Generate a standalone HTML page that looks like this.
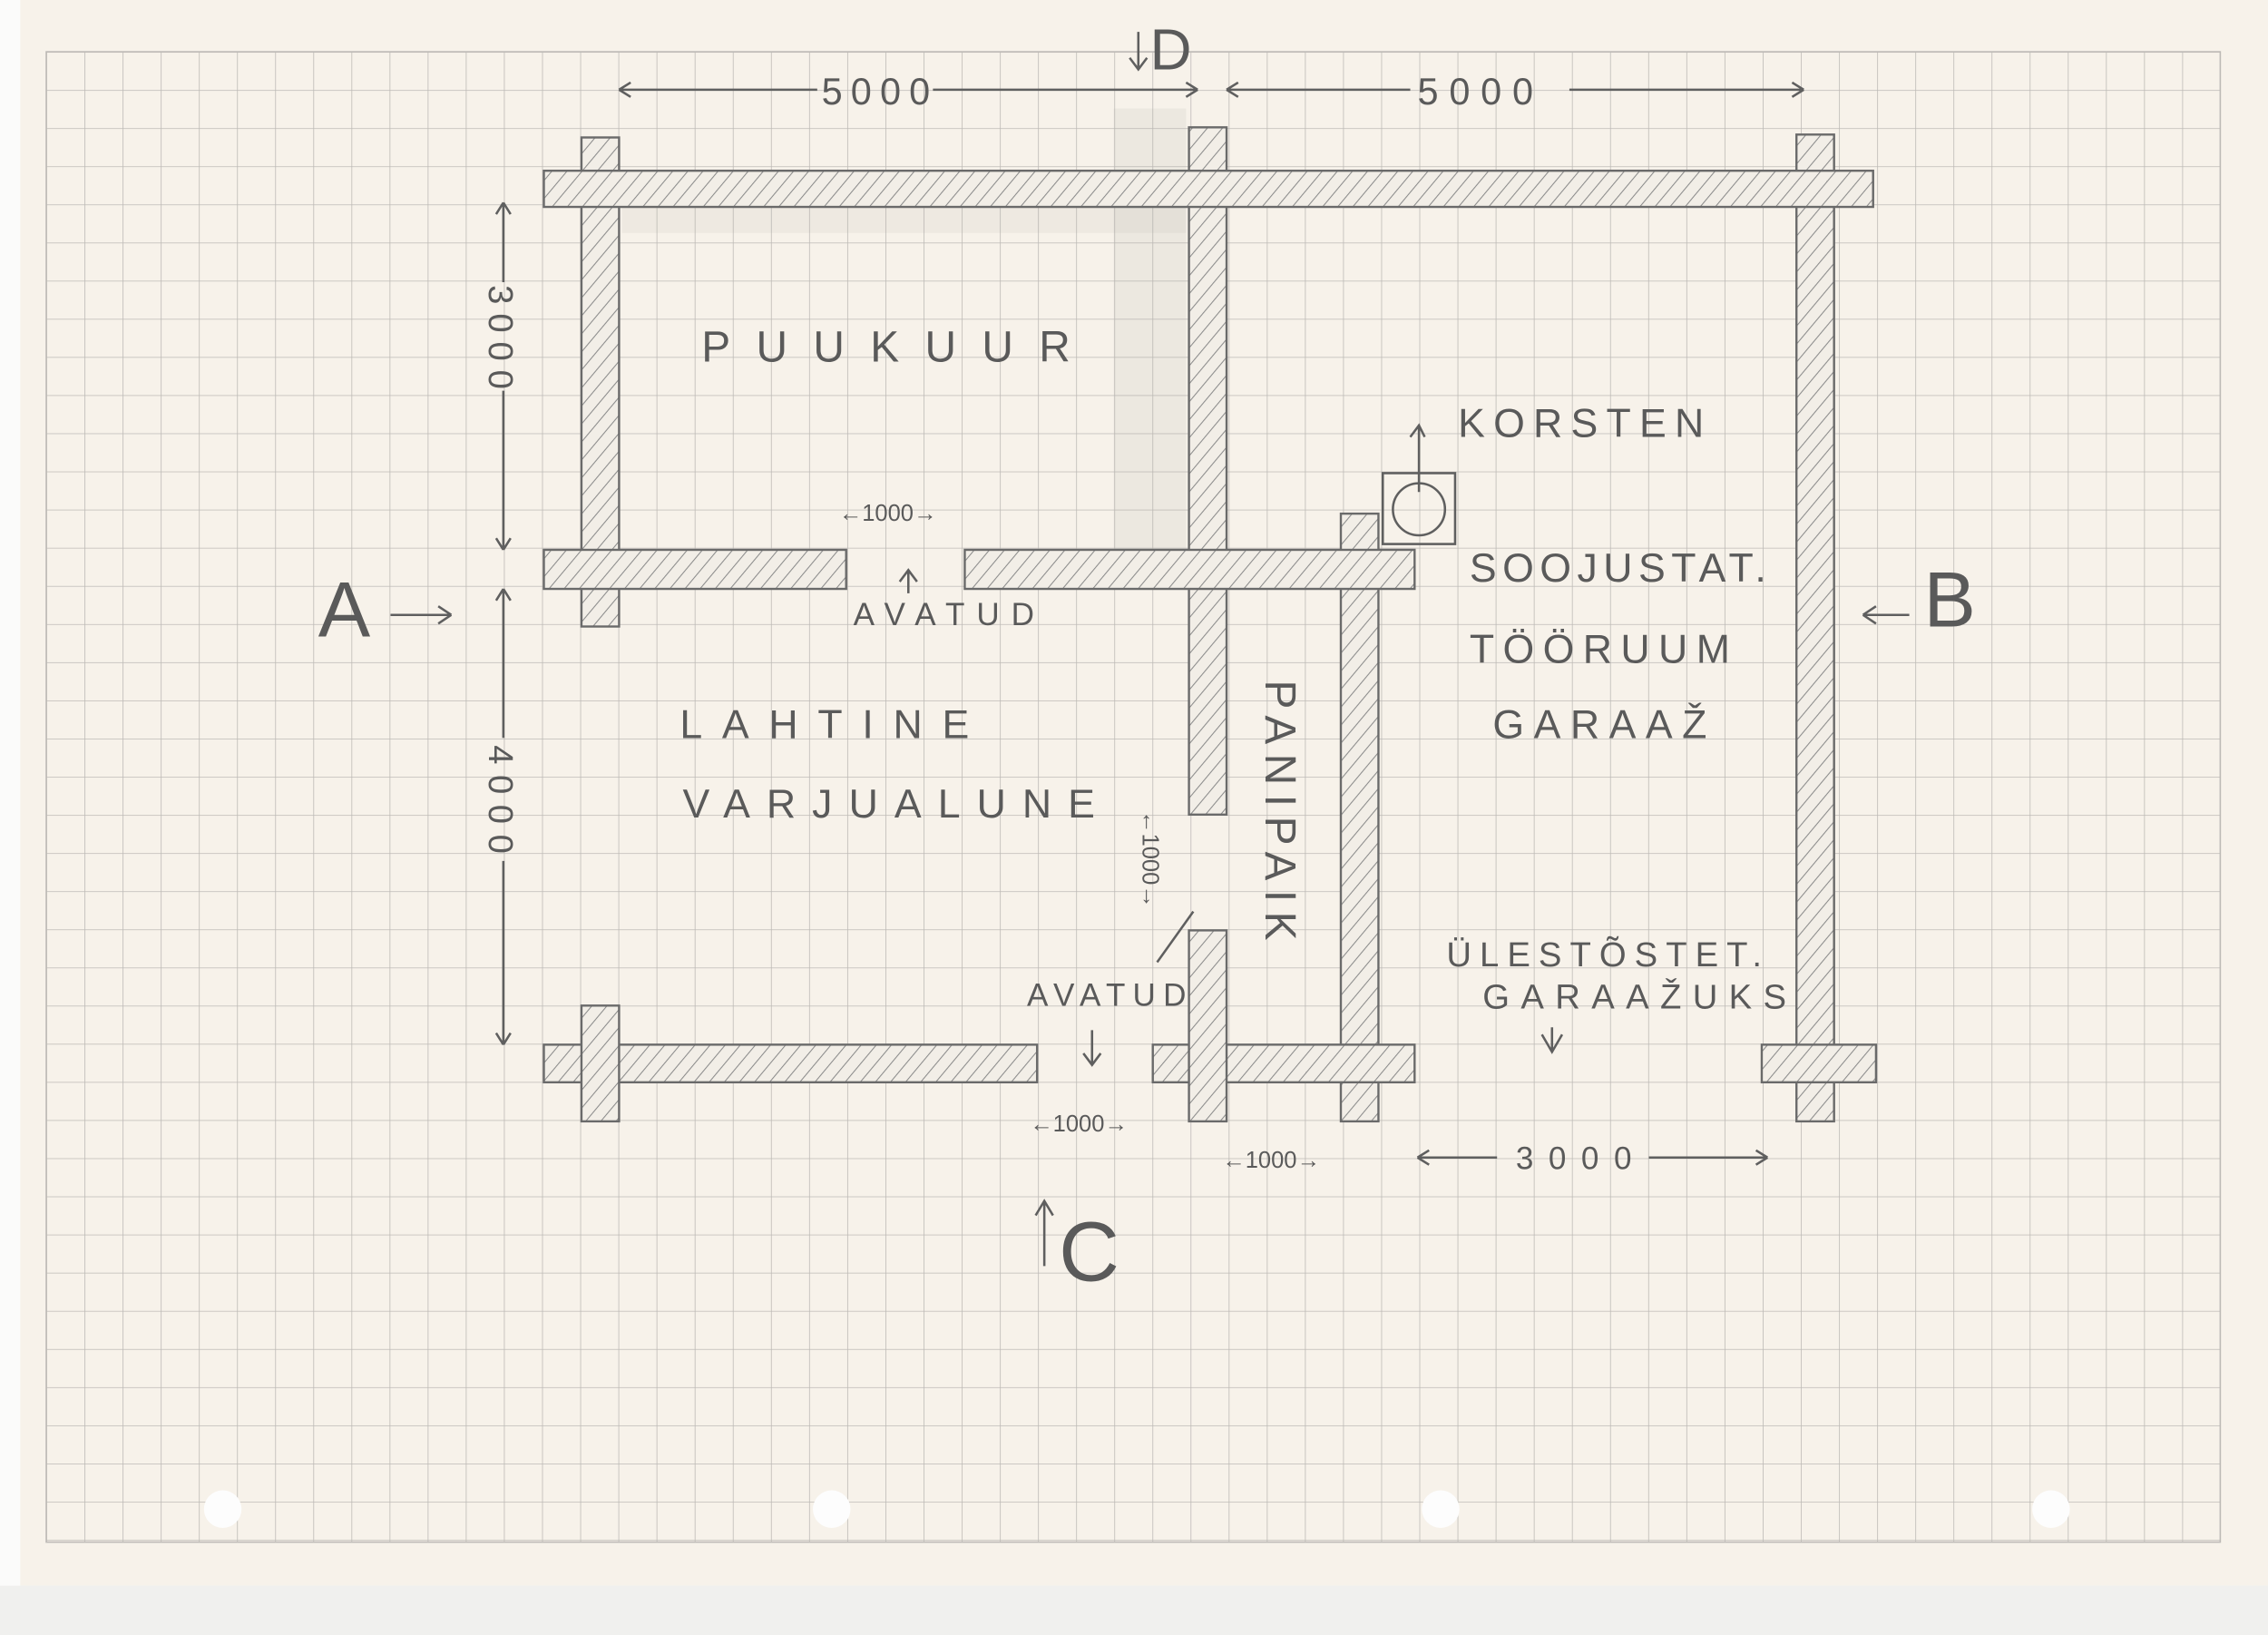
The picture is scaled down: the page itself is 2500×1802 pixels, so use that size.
<!DOCTYPE html>
<html><head><meta charset="utf-8"><style>
html,body{margin:0;padding:0;background:#f0f0ee;}
svg{display:block;}
text{font-family:"Liberation Sans",sans-serif;fill:#5a5a5a;}
</style></head><body>
<svg width="2500" height="1802" viewBox="0 0 1568 1130" preserveAspectRatio="none" xmlns="http://www.w3.org/2000/svg">
<defs>
<pattern id="g" x="32" y="35.8" width="26.37" height="26.37" patternUnits="userSpaceOnUse">
<path d="M0 0H26.37M0 0V26.37" stroke="#bdbab6" stroke-width="1" fill="none"/>
</pattern>
<pattern id="h" width="8" height="8" patternUnits="userSpaceOnUse" patternTransform="rotate(40)">
<rect width="8" height="8" fill="#f2eee7"/>
<line x1="0" y1="0" x2="0" y2="8" stroke="#8a8a8a" stroke-width="1.3"/>
</pattern>
</defs>
<rect x="0" y="0" width="1568" height="1096" fill="#f7f2ea"/>
<rect x="0" y="0" width="14" height="1096" fill="#fbfbfa"/>
<rect x="0" y="1096" width="1568" height="34" fill="#f0f0ee"/>
<rect x="32" y="35.8" width="1503" height="1030" fill="url(#g)" stroke="#bdbab6" stroke-width="1"/>
<g fill="#fdfdfd"><circle cx="154" cy="1043" r="13"/><circle cx="575" cy="1043" r="13"/><circle cx="996" cy="1043" r="13"/><circle cx="1418" cy="1043" r="13"/></g>
<rect x="770" y="75" width="50" height="320" fill="#b0aca8" opacity="0.15"/>
<rect x="430" y="143" width="390" height="18" fill="#b0aca8" opacity="0.12"/>
<g fill="url(#h)" stroke="#6a6a6a" stroke-width="1.5">
<rect x="927" y="355" width="26" height="420"/>
<rect x="822" y="88" width="26" height="475"/>
<rect x="402" y="95" width="26" height="338"/>
<rect x="1242" y="93" width="26" height="682"/>
<rect x="376" y="118" width="919" height="25"/>
<rect x="376" y="380" width="209" height="27"/>
<rect x="667" y="380" width="311" height="27"/>
<rect x="376" y="722" width="341" height="26"/>
<rect x="402" y="695" width="26" height="80"/>
<rect x="797" y="722" width="181" height="26"/>
<rect x="822" y="643" width="26" height="132"/>
<rect x="1218" y="722" width="79" height="26"/>
</g>
<g fill="#f2eee7" stroke="none">
<rect x="404" y="381" width="22" height="25" fill="url(#h)"/>
</g>
<g fill="none" stroke="#5f5f5f" stroke-width="1.6">
<rect x="956" y="327" width="50" height="49"/>
<circle cx="981" cy="352" r="18"/>
<path d="M428 62H565M645 62H828M428 62l8-5M428 62l8 5M828 62l-8-5M828 62l-8 5"/>
<path d="M848 62H975M1085 62H1247M848 62l8-5M848 62l8 5M1247 62l-8-5M1247 62l-8 5"/>
<path d="M348 140V195M348 270V380M348 140l-5 8M348 140l5 8M348 380l-5-8M348 380l5-8"/>
<path d="M348 407V510M348 595V722M348 407l-5 8M348 407l5 8M348 722l-5-8M348 722l5-8"/>
<path d="M270 425H312M312 425l-9-6M312 425l-9 6"/>
<path d="M1320 425H1288M1288 425l9-6M1288 425l9 6"/>
<path d="M787 22V48M781 40l6 8 6-8"/>
<path d="M722 875V830M716 840l6-10 6 10"/>
<path d="M628 410V395M622 402l6-8 6 8"/>
<path d="M981 340V295M975 302l6-8 4 8"/>
<path d="M755 735V712M749 728l6 8 6-8"/>
<path d="M1073 726V710M1066 715l7 12 7-12"/>
<path d="M980 800H1035M1140 800H1222M980 800l8-5M980 800l8 5M1222 800l-8-5M1222 800l-8 5"/>
<path d="M800 665L825 630"/>
</g>
<g font-size="30">
<text x="568" y="72" font-size="26" textLength="75">5000</text>
<text x="980" y="72" font-size="26" textLength="80">5000</text>
<text x="795" y="48" font-size="40">D</text>
<text x="220" y="440" font-size="54">A</text>
<text x="1330" y="433" font-size="54">B</text>
<text x="732" y="885" font-size="58">C</text>
<text x="485" y="250" textLength="255" font-size="30">PUUKUUR</text>
<text x="1008" y="302" textLength="170" font-size="28">KORSTEN</text>
<text x="1016" y="402" textLength="205" font-size="28">SOOJUSTAT.</text>
<text x="1016" y="458" textLength="180" font-size="28">TÖÖRUUM</text>
<text x="1032" y="510" textLength="148" font-size="28">GARAAŽ</text>
<text x="470" y="510" textLength="200" font-size="28">LAHTINE</text>
<text x="472" y="565" textLength="285" font-size="28">VARJUALUNE</text>
<text x="590" y="432" textLength="125" font-size="22">AVATUD</text>
<text x="710" y="695" textLength="110" font-size="22">AVATUD</text>
<text x="1000" y="668" textLength="218" font-size="24">ÜLESTÕSTET.</text>
<text x="1025" y="697" textLength="210" font-size="24">GARAAŽUKS</text>
<text x="1048" y="808" font-size="22" textLength="80">3000</text>
<text x="580" y="360" font-size="16">←1000→</text>
<text x="712" y="782" font-size="16">←1000→</text>
<text x="845" y="807" font-size="16">←1000→</text>
<text transform="translate(338,197) rotate(90)" font-size="24" textLength="72">3000</text>
<text transform="translate(338,515) rotate(90)" font-size="24" textLength="75">4000</text>
<text transform="translate(790,560) rotate(90)" font-size="16">←1000→</text>
<text transform="translate(875,470) rotate(90)" font-size="30" textLength="180">PANIPAIK</text>
</g>
</svg>
</body></html>
